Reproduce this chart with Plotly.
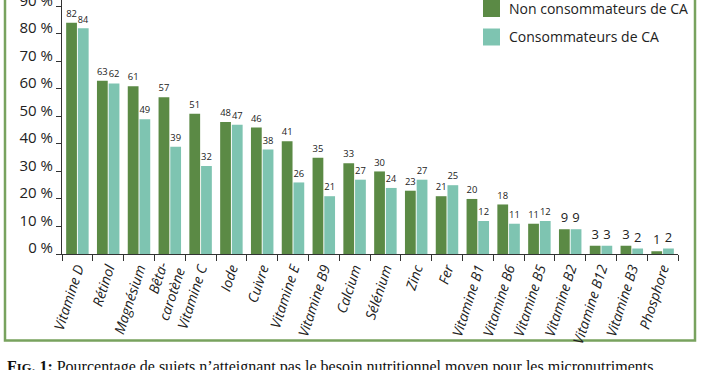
import plotly.graph_objects as go

categories = ["Vitamine D", "Rétinol", "Magnésium", "Bêta-<br>carotène", "Vitamine C", "Iode",
              "Cuivre", "Vitamine E", "Vitamine B9", "Calcium", "Sélénium", "Zinc", "Fer",
              "Vitamine B1", "Vitamine B6", "Vitamine B5", "Vitamine B2", "Vitamine B12",
              "Vitamine B3", "Phosphore"]
non_conso = [84, 63, 61, 57, 51, 48, 46, 41, 35, 33, 30, 23, 21, 20, 18, 11, 9, 3, 3, 1]
conso = [82, 62, 49, 39, 32, 47, 38, 26, 21, 27, 24, 27, 25, 12, 11, 12, 9, 3, 2, 2]
labels_non = ["82", "63", "61", "57", "51", "48", "46", "41", "35", "33", "30", "23", "21",
              "20", "18", "11", "9", "3", "3", "1"]
labels_con = ["84", "62", "49", "39", "32", "47", "38", "26", "21", "27", "24", "27", "25",
              "12", "11", "12", "9", "3", "2", "2"]
series_names = ["Non consommateurs de CA", "Consommateurs de CA"]
y_ticks = [0, 10, 20, 30, 40, 50, 60, 70, 80, 90]
y_ticktext = [f"{v} %" for v in y_ticks]
caption = ("<b>F<span style='font-size:12.5px'>IG</span>. 1:</b> Pourcentage de sujets n’atteignant "
           "pas le besoin nutritionnel moyen pour les micronutriments")

DARK = "#5b8a45"
LIGHT = "#7ec4b1"
FRAME = "#78a25e"
TXT = "#222222"
FONT = "Open Sans"

W, H = 702, 370
ML, MR, MT, MB = 62, 24, 0, 116
PW, PH = W - ML - MR, H - MT - MB


def px_x(p):
    return (p - ML) / PW


def px_y(p):
    return (H - MB - p) / PH


fig = go.Figure()
fig.add_trace(go.Bar(x=categories, y=non_conso, name=series_names[0], marker_color=DARK,
                     marker_line_width=0, text=labels_non, textposition="outside",
                     textfont=dict(family=FONT, size=13, color=TXT), cliponaxis=False,
                     showlegend=False))
fig.add_trace(go.Bar(x=categories, y=conso, name=series_names[1], marker_color=LIGHT,
                     marker_line_width=0, text=labels_con, textposition="outside",
                     textfont=dict(family=FONT, size=13, color=TXT), cliponaxis=False,
                     showlegend=False))

shapes = []
annotations = []
# frame
shapes.append(dict(type="rect", xref="paper", yref="paper",
                   x0=px_x(5), x1=px_x(695), y0=px_y(340.5), y1=px_y(-20),
                   line=dict(color=FRAME, width=2.5), fillcolor="rgba(0,0,0,0)", layer="below"))
# legend
for i, (name, col) in enumerate(zip(series_names, [DARK, LIGHT])):
    top = 0 + i * 28.5
    shapes.append(dict(type="rect", xref="paper", yref="paper",
                       x0=px_x(483), x1=px_x(500), y0=px_y(top + 17), y1=px_y(top),
                       line=dict(width=0), fillcolor=col))
    annotations.append(dict(xref="paper", yref="paper", x=px_x(507), y=px_y(top + 8.5),
                            xanchor="left", yanchor="middle", showarrow=False, text=name,
                            font=dict(family=FONT, size=14, color=TXT)))
# caption (cut off by the bottom edge, as in the reference)
annotations.append(dict(xref="paper", yref="paper", x=px_x(5), y=px_y(367),
                        xanchor="left", yanchor="middle", showarrow=False, text=caption,
                        font=dict(family="Liberation Serif", size=16, color="#111111")))

fig.update_layout(
    width=W, height=H,
    margin=dict(l=ML, r=MR, t=MT, b=MB, pad=0, autoexpand=False),
    paper_bgcolor="white", plot_bgcolor="white",
    barmode="group", bargap=0.24, bargroupgap=0.08,
    shapes=shapes, annotations=annotations,
    showlegend=False,
    font=dict(family=FONT, color=TXT),
)
fig.update_xaxes(
    automargin=False,
    showline=True, linecolor="#333333", linewidth=1,
    ticks="outside", tickson="boundaries", ticklen=6, tickcolor="#333333",
    tickangle=-72, tickfont=dict(family=FONT, size=14, color=TXT, style="italic"),
    showgrid=False, zeroline=False,
)
fig.update_yaxes(
    automargin=False,
    range=[0, 92.3], showline=True, linecolor="#333333", linewidth=1,
    ticks="outside", ticklen=5, tickcolor="#333333",
    tickvals=y_ticks, ticktext=y_ticktext, ticklabelshift=-6,
    ticklabeloverflow="allow",
    tickfont=dict(family=FONT, size=15, color=TXT),
    showgrid=False, zeroline=False,
)

fig.write_html("out.html", config={"displayModeBar": False},
               post_script="document.body.style.margin='0';document.body.style.overflow='hidden';")
